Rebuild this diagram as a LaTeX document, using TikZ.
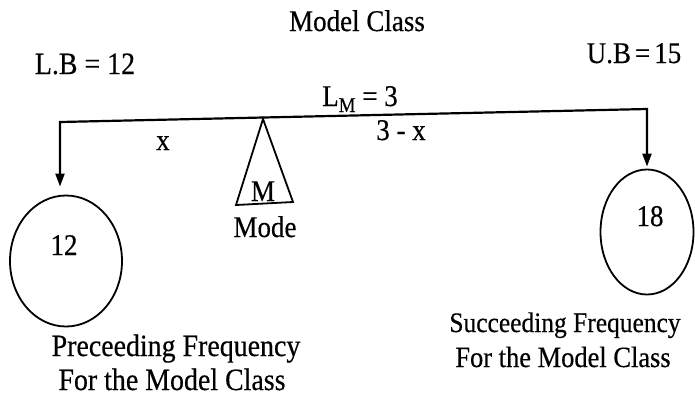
\documentclass[tikz,border=0pt]{standalone}
\usepackage{fontspec}
\setmainfont{Liberation Serif}[FakeStretch=0.9,FakeBold=0.4]
\usetikzlibrary{arrows.meta,shapes.geometric}
\begin{document}
\begin{tikzpicture}[x=1bp,y=-1bp,
  txt/.style={inner sep=0pt, anchor=base, font=\fontsize{30bp}{33bp}\selectfont},
  ring/.style={draw, ellipse, line width=1.8bp, inner sep=0pt},
  beam/.style={line width=2.2bp, line join=miter}]
\useasboundingbox (0,0) rectangle (695,403);
% texts
\node[txt] (title) at (357,31) {Model Class};
\node[txt, font=\fontsize{31bp}{33bp}\selectfont] (lb) at (85,74) {L.B = 12};
\node[txt] (ub) at (634,63) {U.B\hspace{4bp}=\hspace{4bp}15};
\node[txt] (lm) at (360,106) {L\raisebox{-6bp}{\fontsize{21bp}{21bp}\selectfont M} = 3};
\node[txt] (x) at (163,150) {x};
\node[txt] (rest) at (401,140) {3 - x};
% circles
\node[ring, minimum width=112bp, minimum height=131bp] (c12) at (66,261) {};
\node[ring, minimum width=93bp, minimum height=125bp] (c18) at (647,232) {};
\node[txt] (n12) at (64,255) {12};
\node[txt] (n18) at (650,226) {18};
% beam and arrows
\coordinate (lc) at (60,122);
\coordinate (rc) at (647,109);
\draw[beam, {Triangle[length=13bp,width=9bp]}-{Triangle[length=13bp,width=9bp]},
      shorten <=8bp, shorten >=2bp]
  (lc |- c12.north) -- (lc) -- (rc) -- (rc |- c18.north);
% fulcrum (mode)
\coordinate (apex) at (263,119);
\draw[line width=1.8bp, line join=miter] (apex) -- (236,205) -- (293,202) -- cycle;
\node[txt] (m) at (263,201) {M};
\node[txt] (mode) at (265,237) {Mode};
% bottom labels
\node[txt, font=\fontsize{31bp}{33bp}\selectfont] (pf1) at (176,356) {Preceeding Frequency};
\node[txt, font=\fontsize{31bp}{33bp}\selectfont] (pf2) at (172,390) {For the Model Class};
\node[txt, font=\fontsize{28.3bp}{33bp}\selectfont] (sf1) at (565,332) {Succeeding Frequency};
\node[txt, font=\fontsize{29.4bp}{33bp}\selectfont] (sf2) at (563,367) {For the Model Class};
\end{tikzpicture}
\end{document}
